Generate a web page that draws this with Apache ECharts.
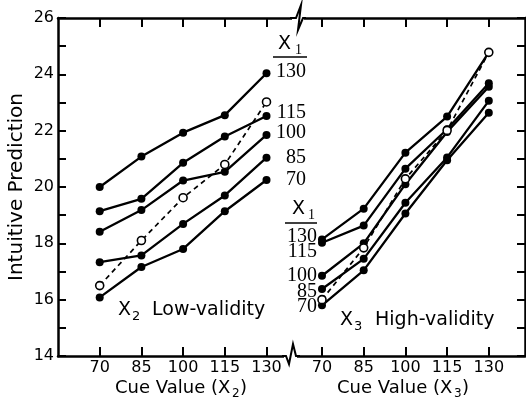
<!DOCTYPE html>
<html><head><meta charset="utf-8">
<script src="https://cdn.jsdelivr.net/npm/echarts@6/dist/echarts.min.js"></script>
<style>html,body{margin:0;padding:0;background:#fff}#c{width:526px;height:401px}</style>
</head><body><div id="c"></div><script>
// ---- data ----
const cueValues = [70, 85, 100, 115, 130];
const x1Levels = ['130', '115', '100', '85', '70'];
// Left panel: X2 low-validity (one line per X1 level) + open-circle dashed line
const low130 = [20.00, 21.08, 21.93, 22.55, 24.04];
const low115 = [19.14, 19.58, 20.86, 21.79, 22.52];
const low100 = [18.41, 19.18, 20.23, 20.54, 21.85];
const low85  = [17.33, 17.57, 18.69, 19.70, 21.04];
const low70  = [16.08, 17.16, 17.80, 19.14, 20.25];
const lowOpen = [16.50, 18.10, 19.62, 20.80, 23.02];
// Right panel: X3 high-validity
const high130 = [18.14, 19.23, 21.22, 22.50, 24.78];
const high115 = [18.02, 18.63, 20.65, 22.05, 23.68];
const high100 = [16.85, 18.00, 20.10, 21.95, 23.56];
const high85  = [16.38, 17.45, 19.44, 21.05, 23.06];
const high70  = [15.80, 17.04, 19.06, 20.95, 22.64];
const highOpen = [16.00, 17.84, 20.29, 22.01, 24.78];
const yMin = 14, yMax = 26;

// ---- chart ----
const chart = echarts.init(document.getElementById('c'), null, {renderer: 'canvas'});
const SANS = '"DejaVu Sans", sans-serif';
const SERIF = '"Liberation Serif", serif';

function mk(name, vals, panel, open) {
  return {
    name: name, type: 'line',
    xAxisIndex: panel === 0 ? 0 : 2, yAxisIndex: panel,
    data: cueValues.map((c, i) => [c, vals[i]]),
    symbol: 'circle', symbolSize: 8, showSymbol: true,
    itemStyle: {color: open ? '#fff' : '#000', borderColor: '#000', borderWidth: open ? 1.6 : 0},
    lineStyle: {color: '#000', width: open ? 1.7 : 2.3, type: open ? [5, 4] : 'solid'},
    z: open ? 4 : 3, silent: true, animation: false
  };
}

const axisLineStyle = {color: '#000', width: 2.5};
function xAx(grid, pos, min, max, withLabel) {
  return {
    type: 'value', gridIndex: grid, position: pos, min: min, max: max,
    axisLine: {show: true, onZero: false, lineStyle: axisLineStyle},
    axisTick: {show: true, inside: true, length: 9, customValues: cueValues, lineStyle: {color: '#000', width: 2}},
    axisLabel: {show: withLabel, customValues: cueValues, color: '#000', fontSize: 16, fontFamily: SANS, margin: 4},
    splitLine: {show: false}
  };
}

const option = {
  backgroundColor: '#fff',
  animation: false,
  grid: [
    {left: 58, top: 18, width: 237, height: 338, containLabel: false},
    {left: 295, top: 18, width: 230, height: 338, containLabel: false}
  ],
  xAxis: [
    xAx(0, 'bottom', 55, 140.25, true),
    xAx(0, 'top', 55, 140.25, false),
    xAx(1, 'bottom', 60.29, 143.02, true),
    xAx(1, 'top', 60.29, 143.02, false)
  ],
  yAxis: [
    {type: 'value', gridIndex: 0, position: 'left', min: yMin, max: yMax, interval: 2,
     axisLine: {show: true, lineStyle: axisLineStyle},
     axisTick: {show: true, inside: true, length: 8, lineStyle: {color: '#000', width: 2}},
     minorTick: {show: true, splitNumber: 2, length: 8, lineStyle: {color: '#000', width: 2}},
     axisLabel: {color: '#000', fontSize: 16, fontFamily: SANS, margin: 4},
     splitLine: {show: false}, minorSplitLine: {show: false},
     name: 'Intuitive Prediction', nameLocation: 'middle', nameGap: 31,
     nameTextStyle: {color: '#000', fontSize: 20, fontFamily: SANS}},
    {type: 'value', gridIndex: 1, position: 'right', min: yMin, max: yMax, interval: 1,
     axisLine: {show: true, lineStyle: axisLineStyle},
     axisTick: {show: true, inside: true, length: 8, lineStyle: {color: '#000', width: 2}},
     axisLabel: {show: false}, splitLine: {show: false}}
  ],
  series: [
    mk('L130', low130, 0, false), mk('L115', low115, 0, false), mk('L100', low100, 0, false),
    mk('L85', low85, 0, false), mk('L70', low70, 0, false), mk('Lopen', lowOpen, 0, true),
    mk('H130', high130, 1, false), mk('H115', high115, 1, false), mk('H100', high100, 1, false),
    mk('H85', high85, 1, false), mk('H70', high70, 1, false), mk('Hopen', highOpen, 1, true)
  ],
  graphic: []
};

// ---- annotations ----
const g = option.graphic;
function txt(x, y, s, font, align) {
  g.push({type: 'text', x: x, y: y, z: 50, silent: true,
    style: {text: s, font: font, fill: '#000', align: align || 'left', verticalAlign: 'middle'}});
}
function ln(x1, y1, x2, y2, w) {
  g.push({type: 'line', z: 50, silent: true, shape: {x1: x1, y1: y1, x2: x2, y2: y2},
    style: {stroke: '#000', lineWidth: w || 1.5}});
}
// left legend labels
txt(278, 44, 'X', '19px ' + SANS);
txt(295, 50, '1', '14px ' + SERIF);
ln(273, 57, 307, 57, 1.5);
const leftLabelY = [72, 113, 133, 158, 180];
x1Levels.forEach((s, i) => txt(306, leftLabelY[i], s, '20px ' + SERIF, 'right'));
// right legend labels
txt(292, 209, 'X', '19px ' + SANS);
txt(308, 215, '1', '14px ' + SERIF);
ln(285, 223, 317, 223, 1.5);
const rightLabelY = [237, 252, 276, 292, 307];
x1Levels.forEach((s, i) => txt(317, rightLabelY[i], s, '20px ' + SERIF, 'right'));
// panel titles
txt(118, 310, 'X', '19px ' + SANS);
txt(132, 317, '2', '13px ' + SANS);
txt(152, 310, 'Low-validity', '19px ' + SANS);
txt(340, 320, 'X', '19px ' + SANS);
txt(354, 327, '3', '13px ' + SANS);
txt(375, 320, 'High-validity', '19px ' + SANS);
// axis names (with subscripts)
txt(115, 388, 'Cue Value (X', '18px ' + SANS);
txt(232, 394, '2', '12px ' + SANS);
txt(240, 388, ')', '18px ' + SANS);
txt(337, 388, 'Cue Value (X', '18px ' + SANS);
txt(454, 394, '3', '12px ' + SANS);
txt(462, 388, ')', '18px ' + SANS);
// axis breaks
g.push({type: 'rect', z: 40, silent: true, shape: {x: 292, y: 15, width: 12, height: 6}, style: {fill: '#fff'}});
g.push({type: 'polyline', z: 45, silent: true,
  shape: {points: [[290, 18], [296, 18], [301, 5], [298, 30], [303, 18], [306, 18]]},
  style: {stroke: '#000', lineWidth: 2, fill: null}});
g.push({type: 'rect', z: 40, silent: true, shape: {x: 284, y: 353, width: 13, height: 6}, style: {fill: '#fff'}});
g.push({type: 'polyline', z: 45, silent: true,
  shape: {points: [[282, 356], [286, 356], [289, 364], [293, 344], [296, 356], [300, 356]]},
  style: {stroke: '#000', lineWidth: 2, fill: null}});

chart.setOption(option);
</script></body></html>
